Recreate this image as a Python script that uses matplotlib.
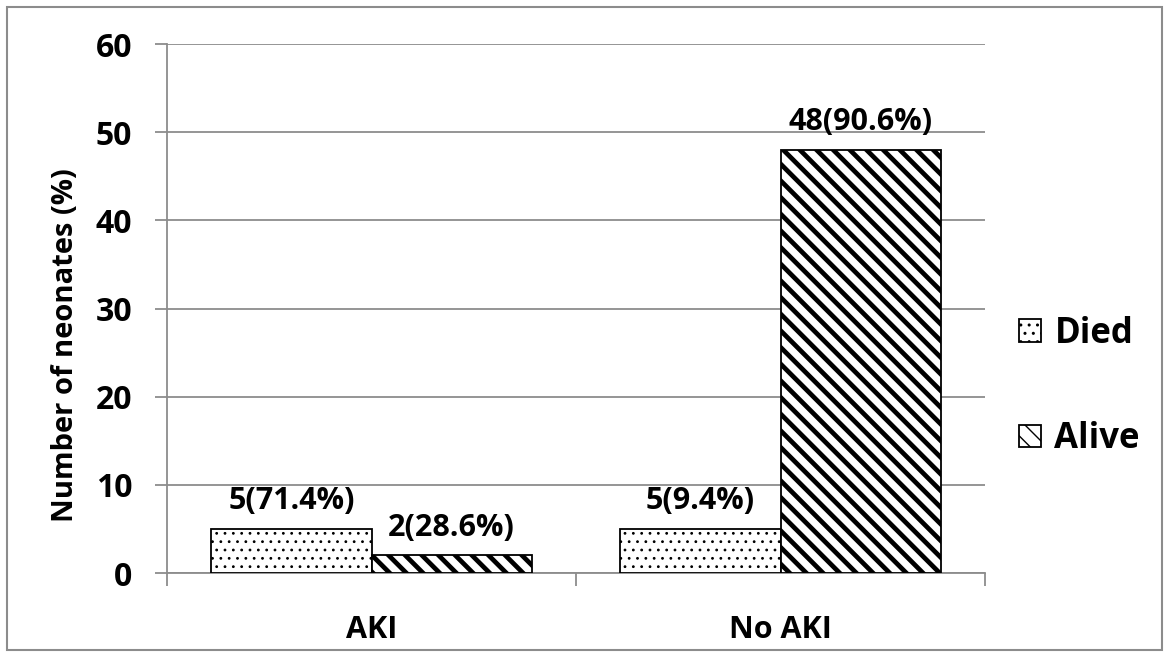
import matplotlib.pyplot as plt
import matplotlib.patches as mpatches
import numpy as np

plt.rcParams["font.family"] = ["Open Sans", "DejaVu Sans"]
plt.rcParams["font.weight"] = "bold"

categories = ["AKI", "No AKI"]
series_names = ["Died", "Alive"]
died_counts = [5, 5]
alive_counts = [2, 48]
died_pct = [71.4, 9.4]
alive_pct = [28.6, 90.6]
y_ticks = [0, 10, 20, 30, 40, 50, 60]

GRID = "#8c8c8c"

fig = plt.figure(figsize=(11.69, 6.56), dpi=100)
ax = fig.add_axes([0.1429, 0.1265, 0.6997, 0.8064])

x = np.arange(len(categories)) + 0.5
w = 0.392

died = ax.bar(x - w / 2, died_counts, w, facecolor="white", edgecolor="black",
              linewidth=1.3, hatch="..", label=series_names[0], zorder=3)
alive = ax.bar(x + w / 2, alive_counts, w, facecolor="white", edgecolor="black",
               linewidth=1.3, hatch="\\\\", label=series_names[1], zorder=3)
for b in died:
    if hasattr(b, "set_hatch_linewidth"):
        b.set_hatch_linewidth(0.8)
for b in alive:
    if hasattr(b, "set_hatch_linewidth"):
        b.set_hatch_linewidth(3.4)

# value labels: count(percent)
for bars, counts, pcts in [(died, died_counts, died_pct), (alive, alive_counts, alive_pct)]:
    for b, n, p in zip(bars, counts, pcts):
        ax.annotate(f"{n}({p}%)", (b.get_x() + b.get_width() / 2, b.get_height()),
                    xytext=(0, 9), textcoords="offset points", ha="center",
                    va="bottom", fontsize=22, fontweight="bold")

ax.set_xlim(0, len(categories))
ax.set_ylim(0, 60)
ax.set_yticks(y_ticks)
ax.set_xticks(np.arange(len(categories) + 1))
ax.set_xticklabels([])
ax.set_xticks(x, minor=True)
ax.set_xticklabels(categories, minor=True, fontsize=22, fontweight="bold")
ax.tick_params(axis="x", which="minor", length=0, pad=30)
ax.tick_params(axis="x", which="major", length=9, width=1.3, color=GRID, direction="out")
ax.tick_params(axis="y", length=9, width=1.3, color=GRID, labelsize=23, pad=16)
for lbl in ax.get_yticklabels():
    lbl.set_fontweight("bold")

ax.yaxis.grid(True, color=GRID, linewidth=1.3, zorder=0)
ax.set_axisbelow(True)
for s in ["top", "right"]:
    ax.spines[s].set_visible(False)
for s in ["left", "bottom"]:
    ax.spines[s].set_color(GRID)
    ax.spines[s].set_linewidth(1.3)

ax.set_ylabel("Number of neonates (%)", fontsize=21, fontweight="bold")
ax.yaxis.set_label_coords(-0.106, 0.431)

leg = fig.legend(handles=[died[0], alive[0]], labels=series_names,
                 loc="center left", bbox_to_anchor=(0.845, 0.411), frameon=False,
                 fontsize=25, handlelength=0.62, handleheight=0.62,
                 handletextpad=0.4, labelspacing=2.0)
for t in leg.get_texts():
    t.set_fontweight("bold")

# outer border
fig.patches.append(mpatches.Rectangle((0.006, 0.009), 0.988, 0.981,
                                      transform=fig.transFigure, fill=False,
                                      edgecolor="#8c8c8c", linewidth=1.5))

fig.savefig("out.png", dpi=100)
